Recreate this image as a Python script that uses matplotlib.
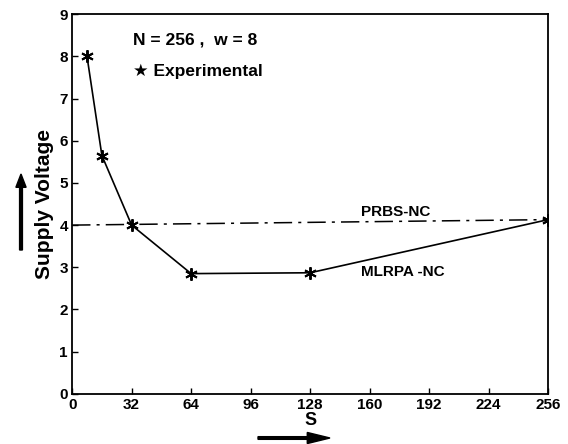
import matplotlib.pyplot as plt
from matplotlib.patches import FancyArrow

plt.rcParams['font.family'] = ['Liberation Sans', 'DejaVu Sans']
plt.rcParams['font.weight'] = 'bold'

# measured points (MLRPA-NC)
s_vals = [8, 16, 32, 64, 128, 256]
voltage = [8.0, 5.65, 4.0, 2.85, 2.87, 4.13]
# PRBS-NC reference line
prbs_s = [0, 256]
prbs_v = [4.0, 4.13]
xticks = [0, 32, 64, 96, 128, 160, 192, 224, 256]
yticks = list(range(10))

fig = plt.figure(figsize=(5.68, 4.44), dpi=100)
ax = fig.add_axes([0.127, 0.113, 0.838, 0.855])

ax.plot(prbs_s, prbs_v, color='black', lw=1.1, dashes=[12, 4, 2, 4])
ax.plot(s_vals, voltage, color='black', lw=1.2, marker=(6, 2, 0), ms=9,
        mew=1.4)

ax.set_xlim(0, 256)
ax.set_ylim(0, 9)
ax.set_xticks(xticks)
ax.set_yticks(yticks)
ax.tick_params(direction='in', length=4, labelsize=11, pad=3, width=1)
for lab in ax.get_xticklabels() + ax.get_yticklabels():
    lab.set_fontweight('bold')
for sp in ax.spines.values():
    sp.set_linewidth(1.3)

ax.text(33, 8.4, 'N = 256 ,  w = 8', fontsize=12.5, fontweight='bold',
        va='center')
ax.text(33, 7.65, '\u2605 Experimental', fontsize=12.5, fontweight='bold',
        va='center')
ax.text(174, 4.31, 'PRBS-NC', fontsize=11, fontweight='bold', ha='center',
        va='center')
ax.text(178, 2.89, 'MLRPA -NC', fontsize=11, fontweight='bold', ha='center',
        va='center')

ax.set_ylabel('Supply Voltage', fontsize=15, fontweight='bold', labelpad=4)
ax.set_xlabel('S', fontsize=13, fontweight='bold', labelpad=0)

# arrows next to axis labels
fig.patches.append(FancyArrow(
    21 / 568, 1 - 250 / 444, 0, 76 / 444, width=0.005, head_width=0.018,
    head_length=0.03, length_includes_head=True, color='black',
    transform=fig.transFigure))
fig.patches.append(FancyArrow(
    258 / 568, 1 - 438 / 444, 72 / 568, 0, width=0.006, head_width=0.025,
    head_length=0.04, length_includes_head=True, color='black',
    transform=fig.transFigure))

fig.savefig('out.png', dpi=100)
